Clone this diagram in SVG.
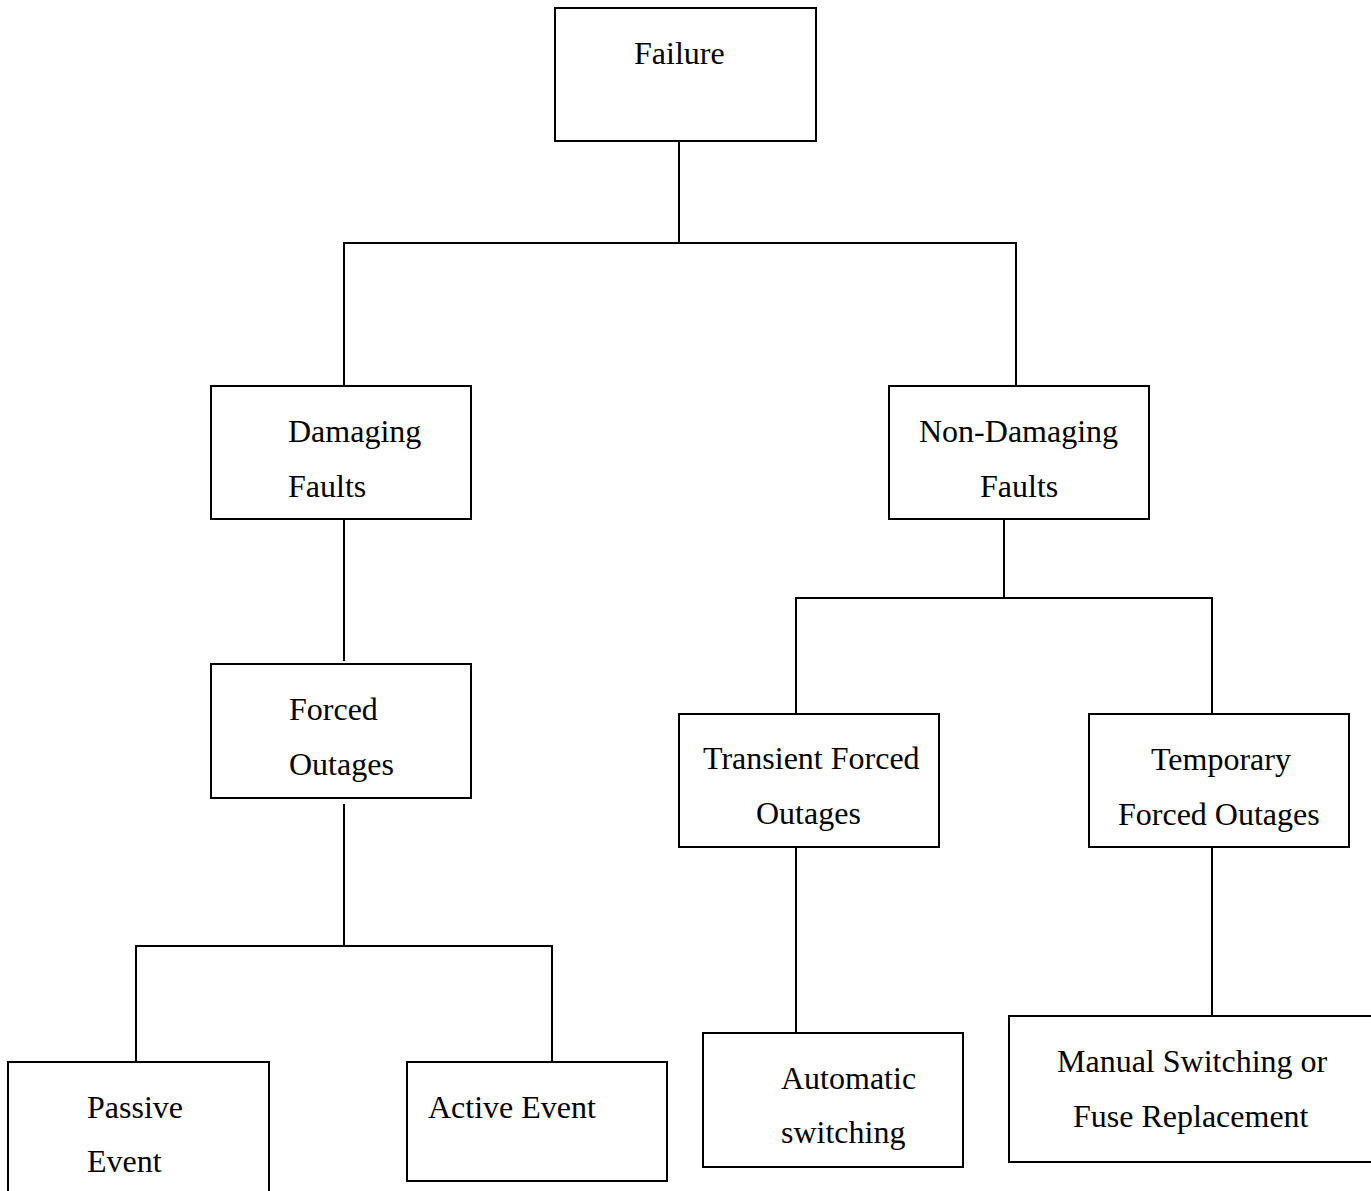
<svg xmlns="http://www.w3.org/2000/svg" width="1371" height="1191" viewBox="0 0 1371 1191">
  <style>
    .box { fill: #ffffff; stroke: #000000; stroke-width: 2; }
    .wire { fill: none; stroke: #000000; stroke-width: 2; }
    text { font-family: "Liberation Serif", "Times New Roman", serif; font-size: 32px; fill: #000000; }
  </style>
  <rect width="1371" height="1191" fill="#ffffff"/>

  <!-- tree connectors -->
  <g id="connectors">
    <path class="wire" d="M679,141 V243 M344,386 V243 H1016 V386"/>
    <path class="wire" d="M344,519 V661"/>
    <path class="wire" d="M344,804 V946 M136,1062 V946 H552 V1062"/>
    <path class="wire" d="M1004,519 V598 M796,714 V598 H1212 V714"/>
    <path class="wire" d="M796,847 V1033"/>
    <path class="wire" d="M1212,847 V1016"/>
  </g>

  <g id="failure">
    <rect class="box" x="555" y="8" width="261" height="133"/>
    <text x="634" y="64">Failure</text>
  </g>

  <g id="damaging-faults">
    <rect class="box" x="211" y="386" width="260" height="133"/>
    <text x="288" y="442">Damaging</text>
    <text x="288" y="497">Faults</text>
  </g>

  <g id="non-damaging-faults">
    <rect class="box" x="889" y="386" width="260" height="133"/>
    <text x="919" y="442">Non-Damaging</text>
    <text x="980" y="497">Faults</text>
  </g>

  <g id="forced-outages">
    <rect class="box" x="211" y="664" width="260" height="134"/>
    <text x="289" y="720">Forced</text>
    <text x="289" y="775">Outages</text>
  </g>

  <g id="transient-forced-outages">
    <rect class="box" x="679" y="714" width="260" height="133"/>
    <text x="703" y="769">Transient Forced</text>
    <text x="756" y="824">Outages</text>
  </g>

  <g id="temporary-forced-outages">
    <rect class="box" x="1089" y="714" width="260" height="133"/>
    <text x="1151" y="770">Temporary</text>
    <text x="1118" y="825">Forced Outages</text>
  </g>

  <g id="passive-event">
    <rect class="box" x="8" y="1062" width="261" height="150"/>
    <text x="87" y="1118">Passive</text>
    <text x="87" y="1172">Event</text>
  </g>

  <g id="active-event">
    <rect class="box" x="407" y="1062" width="260" height="119"/>
    <text x="428" y="1118">Active Event</text>
  </g>

  <g id="automatic-switching">
    <rect class="box" x="703" y="1033" width="260" height="134"/>
    <text x="781" y="1089">Automatic</text>
    <text x="781" y="1143">switching</text>
  </g>

  <g id="manual-switching">
    <rect class="box" x="1009" y="1016" width="380" height="146"/>
    <text x="1057" y="1072">Manual Switching or</text>
    <text x="1073" y="1127">Fuse Replacement</text>
  </g>
</svg>
